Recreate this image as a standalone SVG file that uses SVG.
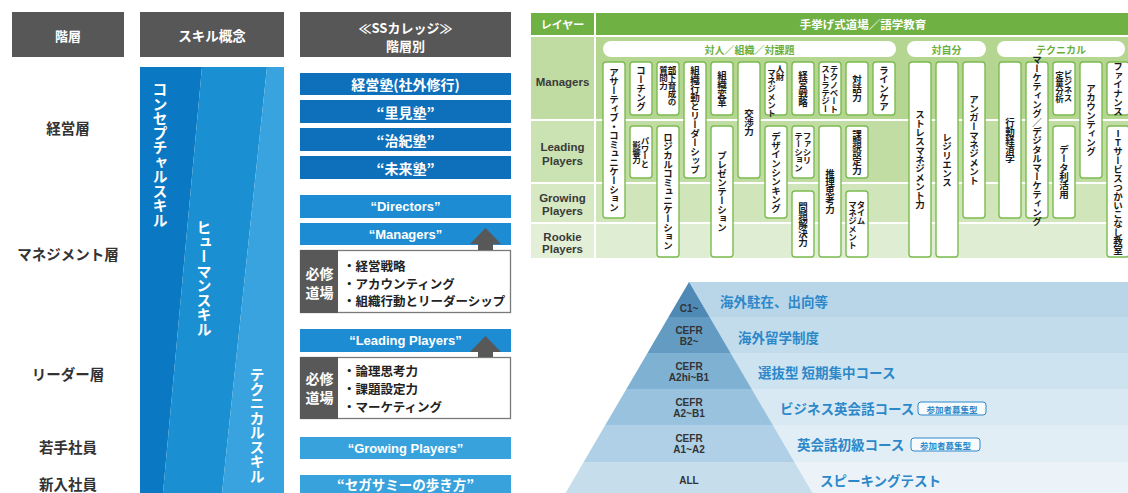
<svg xmlns="http://www.w3.org/2000/svg" width="1128" height="493" viewBox="0 0 1128 493">
<style>
.t{font-family:"Noto Sans CJK JP","Noto Sans",sans-serif;font-weight:700}
.en{font-family:"Liberation Sans","Noto Sans CJK JP",sans-serif;font-weight:700}
.v{writing-mode:vertical-rl}
.hdr{fill:#575757}
.wt{fill:#fff}
.c{text-anchor:middle;dominant-baseline:central}
.lbl{font-size:14.5px;fill:#333}
.b1{fill:#0e6fba}
.b2{fill:#1e8cd2}
.b3{fill:#38a2dc}
.bx{font-size:14px}
.box{fill:#fff;stroke:#7a7a7a;stroke-width:1.3}
.item{font-size:12.5px;fill:#222;dominant-baseline:central}
.arrow{fill:#585858}
.card{fill:#fff;stroke:#7cbb50;stroke-width:1.4}
.ct{font-size:9.5px;letter-spacing:-0.5px;fill:#1a1a1a;text-anchor:middle}
.ct2{font-size:8.5px;letter-spacing:-0.6px;fill:#1a1a1a}
.pill{fill:#fff}
.pt{font-size:10px;fill:#6aae3c}
.rl{font-size:11.5px;fill:#3a3a3a}
.pl{font-size:10px;fill:#333}
.course{font-size:13.5px;fill:#2d88c9;dominant-baseline:central}
.badge{fill:#f7fbfd;stroke:#2d88c9;stroke-width:1}
.bt{font-size:8.5px;fill:#2d88c9}
</style>

<!-- Headers -->
<g id="hdr-kaiso">
<rect class="hdr" x="12" y="12" width="112" height="45"/>
<text class="t wt c" x="68" y="35" font-size="13">階層</text>
</g>
<g id="hdr-skill">
<rect class="hdr" x="140" y="12" width="144" height="45"/>
<text class="t wt c" x="212" y="35" font-size="13.5">スキル概念</text>
</g>
<g id="hdr-ss">
<rect class="hdr" x="300" y="12" width="211" height="45"/>
<text class="t wt c" x="405.5" y="27" font-size="13">≪SSカレッジ≫</text>
<text class="t wt c" x="405.5" y="45" font-size="13">階層別</text>
</g>

<!-- Layer labels -->
<g id="layers">
<text class="t lbl c" x="68" y="127">経営層</text>
<text class="t lbl c" x="68" y="253">マネジメント層</text>
<text class="t lbl c" x="68" y="373">リーダー層</text>
<text class="t lbl c" x="68" y="446">若手社員</text>
<text class="t lbl c" x="68" y="483">新入社員</text>
</g>

<!-- Skill concept column -->
<g id="skill-concept">
<polygon fill="#0a78c3" points="140,67 202,67 163,493 140,493"/>
<polygon fill="#1a8fd2" points="202,67 267,67 222,493 163,493"/>
<polygon fill="#38a3de" points="267,67 284,67 284,493 222,493"/>
<text class="t wt v" x="160" y="82" font-size="15" letter-spacing="-0.5">コンセプチャルスキル</text>
<text class="t wt v" x="204" y="220" font-size="15" letter-spacing="-0.5">ヒューマンスキル</text>
<text class="t wt v" x="257" y="367" font-size="15" letter-spacing="-0.5">テクニカルスキル</text>
</g>

<!-- SS college column -->
<g id="ss-keieijuku"><rect class="b1" x="300" y="73" width="211" height="22"/><text class="t wt c bx" x="405.5" y="84">経営塾(社外修行)</text></g>
<g id="ss-satomi"><rect class="b1" x="300" y="100" width="211" height="23"/><text class="t wt c bx" x="405.5" y="111.5">“里見塾”</text></g>
<g id="ss-haruki"><rect class="b1" x="300" y="128" width="211" height="23"/><text class="t wt c bx" x="405.5" y="139.5">“治紀塾”</text></g>
<g id="ss-mirai"><rect class="b1" x="300" y="156" width="211" height="23"/><text class="t wt c bx" x="405.5" y="167.5">“未来塾”</text></g>
<g id="ss-directors"><rect class="b2" x="300" y="195" width="211" height="23"/><text class="en wt c" font-size="13" x="405.5" y="206.5">“Directors”</text></g>
<g id="ss-managers"><rect class="b2" x="300" y="223" width="211" height="22"/><text class="en wt c" font-size="13" x="405.5" y="234">“Managers”</text></g>
<g id="ss-dojo1">
<rect class="box" x="300.5" y="250.5" width="210" height="62"/>
<rect fill="#585858" x="300" y="250" width="38" height="63"/>
<text class="t wt c" font-size="14" x="319.5" y="273">必修</text>
<text class="t wt c" font-size="14" x="319.5" y="292">道場</text>
<text class="t item" x="343" y="265">・経営戦略</text>
<text class="t item" x="343" y="283">・アカウンティング</text>
<text class="t item" x="343" y="300.5">・組織行動とリーダーシップ</text>
</g>
<g id="ss-leading"><rect class="b2" x="300" y="329" width="211" height="23"/><text class="en wt c" font-size="13" x="405.5" y="340.5">“Leading Players”</text></g>
<g id="ss-dojo2">
<rect class="box" x="300.5" y="357.5" width="210" height="61"/>
<rect fill="#585858" x="300" y="357" width="38" height="62"/>
<text class="t wt c" font-size="14" x="319.5" y="378">必修</text>
<text class="t wt c" font-size="14" x="319.5" y="397">道場</text>
<text class="t item" x="343" y="370">・論理思考力</text>
<text class="t item" x="343" y="388">・課題設定力</text>
<text class="t item" x="343" y="406">・マーケティング</text>
</g>
<g id="ss-growing"><rect class="b3" x="300" y="437" width="211" height="22"/><text class="en wt c" font-size="13" x="405.5" y="448">“Growing Players”</text></g>
<g id="ss-arukikata"><rect class="b3" x="300" y="475" width="211" height="20"/><text class="t wt c" font-size="13.5" x="405.5" y="484">“セガサミーの歩き方”</text></g>

<!-- Connectors (up arrows) -->
<g id="connectors">
<polygon class="arrow" points="485.5,228 501,244 493,244 493,250 478,250 478,244 470,244"/>
<polygon class="arrow" points="485.5,336 501,352 493,352 493,357 478,357 478,352 470,352"/>
</g>

<!-- Table -->
<g id="table-bg">
<rect fill="#6fb142" x="531" y="13" width="63" height="22"/>
<rect fill="#6fb142" x="596" y="13" width="532" height="22"/>
<rect fill="#c0dca2" x="531" y="37" width="63" height="82"/>
<rect fill="#b4d690" x="596" y="37" width="532" height="82"/>
<rect fill="#cbe3b2" x="531" y="121" width="63" height="61"/>
<rect fill="#c1dda3" x="596" y="121" width="532" height="61"/>
<rect fill="#d6e9c3" x="531" y="184" width="63" height="38"/>
<rect fill="#d0e6ba" x="596" y="184" width="532" height="38"/>
<rect fill="#e3f0d7" x="531" y="224" width="63" height="34"/>
<rect fill="#dfeed2" x="596" y="224" width="532" height="34"/>
<text class="t wt c" font-size="11" x="562.5" y="24">レイヤー</text>
<text class="t wt c" font-size="11.5" x="863" y="24">手挙げ式道場／語学教育</text>
<text class="en rl c" x="562.5" y="82">Managers</text>
<text class="en rl c" x="562.5" y="147">Leading</text>
<text class="en rl c" x="562.5" y="161">Players</text>
<text class="en rl c" x="562.5" y="198">Growing</text>
<text class="en rl c" x="562.5" y="211">Players</text>
<text class="en rl c" x="562.5" y="237">Rookie</text>
<text class="en rl c" x="562.5" y="249">Players</text>
</g>

<g id="cat-taijin"><rect class="pill" x="603" y="41" width="293" height="16" rx="8"/><text class="t pt c" x="749.5" y="49">対人／組織／対課題</text></g>
<g id="cat-taijibun"><rect class="pill" x="907" y="41" width="79" height="16" rx="8"/><text class="t pt c" x="946.5" y="49">対自分</text></g>
<g id="cat-technical"><rect class="pill" x="997" y="41" width="128" height="16" rx="8"/><text class="t pt c" x="1061" y="49">テクニカル</text></g>

<g id="card-1"><rect class="card" x="603" y="62" width="22" height="156" rx="3"/><text class="t v ct" x="614" y="140">アサーティブ・コミュニケーション</text></g>
<g id="card-2"><rect class="card" x="630" y="62" width="22" height="53" rx="3"/><text class="t v ct" x="641" y="88.5">コーチング</text></g>
<g id="card-3"><rect class="card" x="630" y="126" width="22" height="52" rx="3"/><text class="t v ct2" text-anchor="middle" x="645" y="152">パワーと</text><text class="t v ct2" text-anchor="middle" x="636.5" y="152">影響力</text></g>
<g id="card-4"><rect class="card" x="657" y="62" width="22" height="53" rx="3"/><text class="t v ct2" x="672" y="66">部下育成の</text><text class="t v ct2" x="663.5" y="66">質問力</text></g>
<g id="card-5"><rect class="card" x="657" y="126" width="22" height="131" rx="3"/><text class="t v ct" x="668" y="191.5">ロジカルコミュニケーション</text></g>
<g id="card-6"><rect class="card" x="684" y="62" width="22" height="116" rx="3"/><text class="t v ct" x="695" y="120">組織行動とリーダーシップ</text></g>
<g id="card-7"><rect class="card" x="711" y="62" width="22" height="53" rx="3"/><text class="t v ct" x="722" y="88.5">組織変革</text></g>
<g id="card-8"><rect class="card" x="711" y="126" width="22" height="131" rx="3"/><text class="t v ct" x="722" y="191.5">プレゼンテーション</text></g>
<g id="card-9"><rect class="card" x="738" y="62" width="22" height="116" rx="3"/><text class="t v ct" x="749" y="122">交渉力</text></g>
<g id="card-10"><rect class="card" x="765" y="62" width="22" height="53" rx="3"/><text class="t v ct2" x="780" y="65">人財</text><text class="t v ct2" x="771.5" y="69">マネジメント</text></g>
<g id="card-11"><rect class="card" x="765" y="126" width="22" height="92" rx="3"/><text class="t v ct" x="776" y="172">デザインシンキング</text></g>
<g id="card-12"><rect class="card" x="792" y="62" width="22" height="53" rx="3"/><text class="t v ct" x="803" y="88.5">経営戦略</text></g>
<g id="card-13"><rect class="card" x="792" y="126" width="22" height="52" rx="3"/><text class="t v ct2" x="807" y="132">ファシリ</text><text class="t v ct2" x="798.5" y="132">テーション</text></g>
<g id="card-14"><rect class="card" x="792" y="191" width="22" height="66" rx="3"/><text class="t v ct" x="803" y="224">問題解決力</text></g>
<g id="card-15"><rect class="card" x="819" y="62" width="22" height="53" rx="3"/><text class="t v ct2" x="834" y="65">テクノベート</text><text class="t v ct2" x="825.5" y="65">ストラテジー</text></g>
<g id="card-16"><rect class="card" x="819" y="126" width="22" height="131" rx="3"/><text class="t v ct" x="830" y="191.5">推理思考力</text></g>
<g id="card-17"><rect class="card" x="846" y="62" width="22" height="53" rx="3"/><text class="t v ct" x="857" y="88.5">対話力</text></g>
<g id="card-18"><rect class="card" x="846" y="126" width="22" height="52" rx="3"/><text class="t v ct" x="857" y="152">課題設定力</text></g>
<g id="card-19"><rect class="card" x="846" y="191" width="22" height="66" rx="3"/><text class="t v ct2" x="861" y="201">タイム</text><text class="t v ct2" x="852.5" y="201">マネジメント</text></g>
<g id="card-20"><rect class="card" x="873" y="62" width="22" height="53" rx="3"/><text class="t v ct" x="884" y="88.5">ラインケア</text></g>
<g id="card-21"><rect class="card" x="909" y="62" width="22" height="195" rx="3"/><text class="t v ct" x="920" y="159.5">ストレスマネジメント力</text></g>
<g id="card-22"><rect class="card" x="936" y="62" width="22" height="195" rx="3"/><text class="t v ct" x="947" y="159.5">レジリエンス</text></g>
<g id="card-23"><rect class="card" x="963" y="62" width="22" height="156" rx="3"/><text class="t v ct" x="974" y="140">アンガーマネジメント</text></g>
<g id="card-24"><rect class="card" x="999" y="62" width="22" height="156" rx="3"/><text class="t v ct" x="1010" y="140">行動経済学</text></g>
<g id="card-25"><rect class="card" x="1026" y="62" width="22" height="156" rx="3"/><text class="t v ct" font-size="8.6" x="1037" y="140">マーケティング／デジタルマーケティング</text></g>
<g id="card-26"><rect class="card" x="1053" y="62" width="22" height="53" rx="3"/><text class="t v ct2" x="1068" y="70">ビジネス</text><text class="t v ct2" x="1059.5" y="71">定量分析</text></g>
<g id="card-27"><rect class="card" x="1053" y="126" width="22" height="92" rx="3"/><text class="t v ct" x="1064" y="172">データ利活用</text></g>
<g id="card-28"><rect class="card" x="1080" y="62" width="22" height="116" rx="3"/><text class="t v ct" x="1091" y="120">アカウンティング</text></g>
<g id="card-29"><rect class="card" x="1107" y="62" width="22" height="53" rx="3"/><text class="t v ct" x="1118" y="88.5">ファイナンス</text></g>
<g id="card-30"><rect class="card" x="1107" y="126" width="22" height="131" rx="3"/><text class="t v ct" x="1118" y="191.5" style="text-orientation:upright">ITサービスつかいこなし教室</text></g>

<!-- Pyramid -->
<g id="pyramid-stripes">
<rect fill="#b9d6e9" x="689" y="282" width="439" height="35"/>
<rect fill="#c3dcec" x="689" y="317" width="439" height="36"/>
<rect fill="#cde3f0" x="689" y="353" width="439" height="36"/>
<rect fill="#d8e9f3" x="689" y="389" width="439" height="36"/>
<rect fill="#e2eef6" x="689" y="425" width="439" height="37"/>
<rect fill="#ecf3f8" x="689" y="462" width="439" height="31"/>
</g>
<g id="lvl-c1"><polygon fill="#4f89b5" points="689,282 709.5,317 668.5,317"/><text class="en pl c" x="689" y="308">C1~</text><text class="t course" x="720" y="301">海外駐在、出向等</text></g>
<g id="lvl-b2"><polygon fill="#639bc3" points="668.5,317 709.5,317 730.5,353 647.5,353"/><text class="en pl c" x="689" y="330">CEFR</text><text class="en pl c" x="689" y="341">B2~</text><text class="t course" x="738" y="337">海外留学制度</text></g>
<g id="lvl-a2hi"><polygon fill="#7fb1d3" points="647.5,353 730.5,353 751.6,389 626.4,389"/><text class="en pl c" x="689" y="366">CEFR</text><text class="en pl c" x="689" y="377">A2hi~B1</text><text class="t course" x="758" y="372">選抜型 短期集中コース</text></g>
<g id="lvl-a2"><polygon fill="#98c2de" points="626.4,389 751.6,389 772.7,425 605.3,425"/><text class="en pl c" x="689" y="402">CEFR</text><text class="en pl c" x="689" y="413">A2~B1</text><text class="t course" x="780" y="408">ビジネス英会話コース</text>
<rect class="badge" x="918" y="402" width="68" height="13" rx="3"/><text class="t bt c" x="952" y="408.5">参加者募集型</text></g>
<g id="lvl-a1"><polygon fill="#afd0e6" points="605.3,425 772.7,425 794.3,462 583.7,462"/><text class="en pl c" x="689" y="438">CEFR</text><text class="en pl c" x="689" y="449">A1~A2</text><text class="t course" x="797" y="444">英会話初級コース</text>
<rect class="badge" x="911" y="438" width="69" height="13" rx="3"/><text class="t bt c" x="945.5" y="444.5">参加者募集型</text></g>
<g id="lvl-all"><polygon fill="#c6ddec" points="583.7,462 794.3,462 812.4,493 565.6,493"/><text class="en pl c" x="689" y="480">ALL</text><text class="t course" x="820" y="480">スピーキングテスト</text></g>
</svg>
